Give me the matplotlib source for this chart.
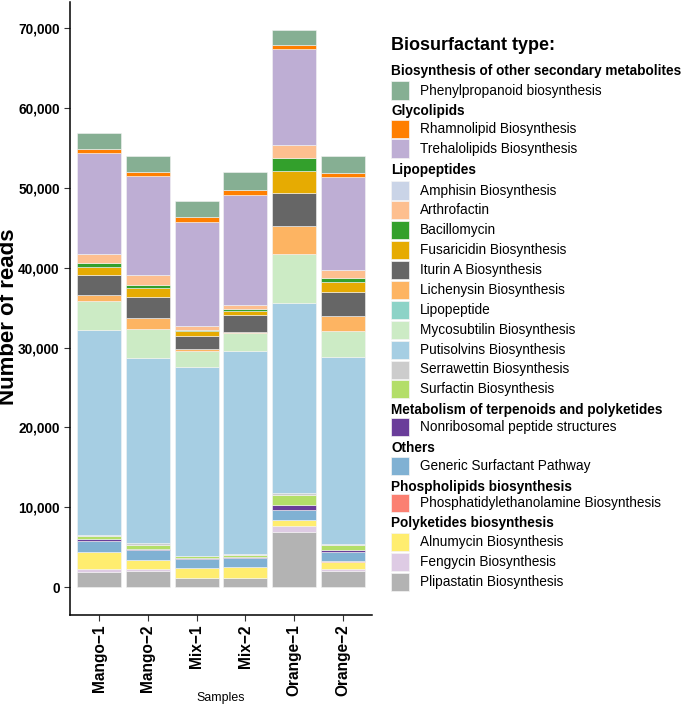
import numpy as np
import matplotlib
matplotlib.use('Agg')
import matplotlib.pyplot as plt
from matplotlib.patches import Rectangle

plt.rcParams['font.family'] = ['Liberation Sans', 'DejaVu Sans']

samples = ['Mango\u22121', 'Mango\u22122', 'Mix\u22121', 'Mix\u22122', 'Orange\u22121', 'Orange\u22122']

# legend order (top of stack first)
groups = [
    ('Biosynthesis of other secondary metabolites', ['Phenylpropanoid biosynthesis']),
    ('Glycolipids', ['Rhamnolipid Biosynthesis', 'Trehalolipids Biosynthesis']),
    ('Lipopeptides', ['Amphisin Biosynthesis', 'Arthrofactin', 'Bacillomycin',
                      'Fusaricidin Biosynthesis', 'Iturin A Biosynthesis',
                      'Lichenysin Biosynthesis', 'Lipopeptide', 'Mycosubtilin Biosynthesis',
                      'Putisolvins Biosynthesis', 'Serrawettin Biosynthesis',
                      'Surfactin Biosynthesis']),
    ('Metabolism of terpenoids and polyketides', ['Nonribosomal peptide structures']),
    ('Others', ['Generic Surfactant Pathway']),
    ('Phospholipids biosynthesis', ['Phosphatidylethanolamine Biosynthesis']),
    ('Polyketides biosynthesis', ['Alnumycin Biosynthesis', 'Fengycin Biosynthesis',
                                  'Plipastatin Biosynthesis']),
]

colors = ['#86AF93', '#FF7F00', '#BEAED4', '#CAD4E7', '#FDBF8F', '#33A02C',
          '#E6AB02', '#666666', '#FDB462', '#8DD3C7', '#CCEBC5', '#A6CEE3',
          '#CCCCCC', '#B3DE69', '#6A3D9A', '#80B1D3', '#FB8072', '#FFED6F',
          '#DECBE4', '#B3B3B3']

# reads per sample, same order as legend (Phenylpropanoid ... Plipastatin)
mango1 = [2120, 500, 12540, 20, 1170, 540, 920, 2540, 710, 20, 3700, 25580, 200, 330, 210, 1460, 20, 2080, 380, 1900]
mango2 = [2080, 500, 12420, 20, 1210, 380, 1120, 2620, 1380, 20, 3580, 23250, 170, 500, 210, 1210, 20, 1120, 250, 2000]
mix1 = [2000, 620, 12920, 10, 580, 120, 580, 1670, 250, 10, 2000, 23650, 60, 230, 60, 1170, 10, 1170, 80, 1120]
mix2 = [2290, 540, 13870, 10, 500, 130, 620, 2040, 170, 10, 2170, 25500, 60, 330, 80, 1130, 10, 1330, 80, 1120]
orange1 = [1960, 500, 12040, 20, 1580, 1580, 2830, 4080, 3460, 20, 6230, 23750, 250, 1210, 670, 1290, 20, 730, 750, 6870]
orange2 = [2170, 460, 11620, 20, 1040, 500, 1250, 2960, 1830, 20, 3250, 23450, 130, 580, 250, 1250, 20, 900, 210, 2080]

W, H = 685, 711
fig = plt.figure(figsize=(W / 100, H / 100), dpi=100)


def fx(px):
    return px / W


def fy(py):
    return 1 - py / H


ax = fig.add_axes([fx(70), fy(615), fx(372) - fx(70), fy(1.7) - fy(615)])

values = np.array([mango1, mango2, mix1, mix2, orange1, orange2]).T
x = np.arange(1, len(samples) + 1)
bottom = np.zeros(len(samples))
n = values.shape[0]
for i in range(n - 1, -1, -1):
    ax.bar(x, values[i], 0.9, bottom=bottom, color=colors[i],
           edgecolor='#F4F4F4', linewidth=0.4)
    bottom += values[i]

total = bottom.max()
ax.set_xlim(0.4, len(samples) + 0.6)
ax.set_ylim(-0.05 * total, total * 1.05)
ax.set_xticks(x)
ax.set_xticklabels(samples, rotation=90, fontsize=11.2, fontweight='bold')
ax.set_yticks(np.arange(0, 70001, 10000))
ax.set_yticklabels([f'{v:,}' for v in range(0, 70001, 10000)], fontsize=9.8, fontweight='bold')
ax.tick_params(length=4, width=0.8, color='#333333')
ax.tick_params(axis='x', pad=3)
for s in ['top', 'right']:
    ax.spines[s].set_visible(False)
for s in ['left', 'bottom']:
    ax.spines[s].set_linewidth(1.1)
ax.set_xlabel('Samples', fontsize=8.9, labelpad=2)
ax.xaxis.set_label_coords(0.5, fy(704) - fy(615), transform=ax.transAxes)
fig.text(fx(9), fy(317), 'Number of reads', rotation=90, fontsize=16,
         fontweight='bold', ha='center', va='center')

# legend built by hand with group headings
fig.text(fx(391), fy(46), 'Biosurfactant type:', fontsize=13, fontweight='bold',
         ha='left', va='center')
head_y = [71, 111, 170, 410, 448, 487.5, 523.5]
item_y = [90.5, 129, 148.5, 190.5, 210.3, 230.3, 250.3, 270.3, 290.3, 310, 329.8,
          349.7, 369.5, 389.3, 426.5, 466, 503, 542.3, 562.3, 581.8]
k = 0
for (head, items), hy in zip(groups, head_y):
    fig.text(fx(391), fy(hy), head, fontsize=9.8, fontweight='bold', ha='left', va='center')
    for name in items:
        yy = item_y[k]
        fig.patches.append(Rectangle((fx(391), fy(yy + 9)), fx(18), fy(0) - fy(18),
                                     transform=fig.transFigure, facecolor=colors[k],
                                     edgecolor='#F4F4F4', linewidth=0.5))
        fig.text(fx(420), fy(yy), name, fontsize=9.8, ha='left', va='center')
        k += 1

fig.savefig('out.png', dpi=100)
